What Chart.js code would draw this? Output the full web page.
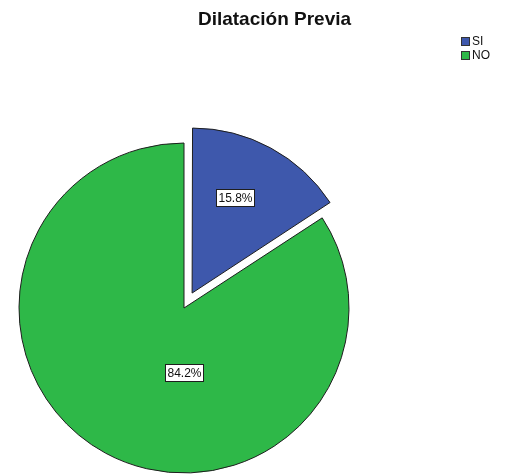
<!DOCTYPE html>
<html>
<head>
<meta charset="utf-8">
<script src="https://cdn.jsdelivr.net/npm/chart.js@4"></script>
<style>
  html, body { margin: 0; padding: 0; background: #fff; }
  #wrap { width: 511px; height: 476px; }
</style>
</head>
<body>
<div id="wrap"><canvas id="pieChart"></canvas></div>
<script>
  // Data
  const chartTitle = 'Dilatación Previa';
  const categories = ['SI', 'NO'];
  const percents = [15.8, 84.2];

  // Looks
  const sliceColors = ['#3e58ac', '#2eb848'];
  const explode = [68, 0]; // chart.js moves an arc by offset / 4
  // where each percent box sits: angle from the top in degrees and share of the radius
  const labelSpots = [{ angle: 24, r: 0.64 }, { angle: 180, r: 0.39 }];
  const fontFamily = '"Liberation Sans", Arial, sans-serif';

  // Title, legend and the boxed percent labels, SPSS style
  const spssLook = {
    id: 'spssLook',
    // chart.js grows an exploded arc a little; keep it the same size as the others
    afterDatasetsUpdate(chart) {
      chart.getDatasetMeta(0).data.forEach((arc, i) => {
        const push = explode[i] / 4;
        const fix = 1 - Math.sin(Math.min(Math.PI, arc.circumference || 0));
        arc.outerRadius -= push * fix;
      });
    },
    afterDatasetsDraw(chart) {
      const ctx = chart.ctx;
      const arcs = chart.getDatasetMeta(0).data;
      ctx.save();

      ctx.font = '12px ' + fontFamily;
      ctx.textAlign = 'center';
      ctx.textBaseline = 'middle';
      arcs.forEach((arc, i) => {
        const spot = labelSpots[i];
        const mid = (arc.startAngle + arc.endAngle) / 2;
        const push = explode[i] / 4;
        const cx = arc.x + Math.cos(mid) * push;
        const cy = arc.y + Math.sin(mid) * push;
        const ang = (spot.angle - 90) * Math.PI / 180;
        const dist = 165 * spot.r;
        const x = Math.round(cx + Math.cos(ang) * dist);
        const y = Math.round(cy + Math.sin(ang) * dist);
        const text = percents[i].toFixed(1) + '%';
        const w = Math.round(ctx.measureText(text).width + 4);
        const h = 17;
        const left = Math.round(x - w / 2);
        const top = Math.round(y - h / 2);
        ctx.fillStyle = '#ffffff';
        ctx.fillRect(left, top, w, h);
        ctx.strokeStyle = '#1e1e1e';
        ctx.lineWidth = 1;
        ctx.strokeRect(left + 0.5, top + 0.5, w, h);
        ctx.fillStyle = '#111';
        ctx.fillText(text, left + w / 2 + 0.5, top + h / 2 + 1);
      });

      // title
      ctx.font = 'bold 19px ' + fontFamily;
      ctx.textBaseline = 'alphabetic';
      ctx.fillStyle = '#111';
      ctx.fillText(chartTitle, 274.5, 25);

      // legend
      ctx.font = '12px ' + fontFamily;
      ctx.textAlign = 'left';
      ctx.textBaseline = 'middle';
      categories.forEach((name, i) => {
        const top = 37 + i * 14;
        ctx.fillStyle = sliceColors[i];
        ctx.fillRect(461, top, 9, 9);
        ctx.strokeStyle = '#333';
        ctx.strokeRect(461.5, top + 0.5, 8, 8);
        ctx.fillStyle = '#111';
        ctx.fillText(name, 472, top + 5);
      });

      ctx.restore();
    }
  };

  const ctx = document.getElementById('pieChart').getContext('2d');
  const pieChart = new Chart(ctx, {
    type: 'pie',
    data: {
      labels: categories,
      datasets: [{
        data: percents,
        backgroundColor: sliceColors,
        borderColor: '#1e1e1e',
        borderWidth: 1,
        offset: explode
      }]
    },
    options: {
      responsive: true,
      maintainAspectRatio: false,
      animation: false,
      radius: 165,
      layout: {
        padding: { left: 0, right: 143, top: 140, bottom: 0 }
      },
      plugins: {
        legend: { display: false },
        title: { display: false },
        tooltip: { enabled: false }
      }
    },
    plugins: [spssLook]
  });
</script>
</body>
</html>
